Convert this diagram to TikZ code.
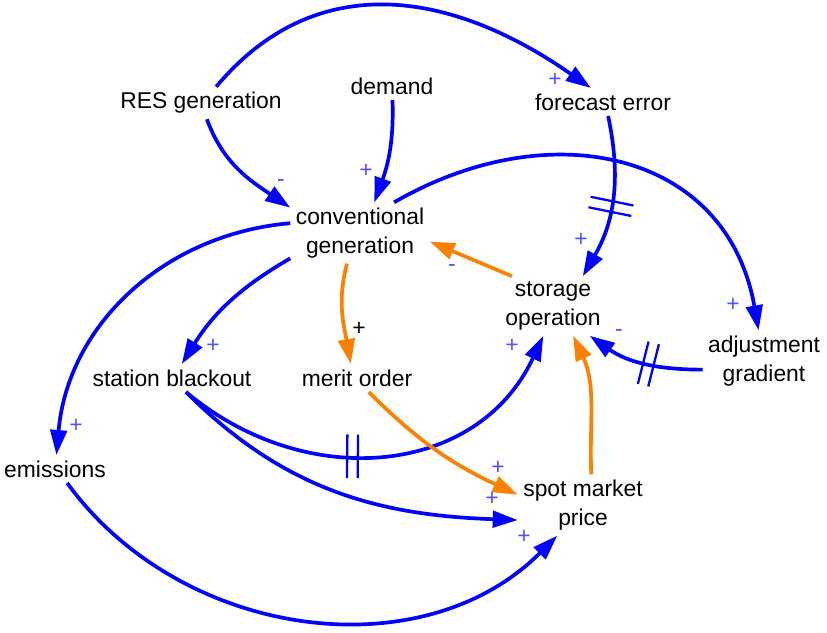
\documentclass[tikz,border=0pt]{standalone}
\usepackage{fontspec}
\setmainfont{Liberation Sans}
\usetikzlibrary{arrows.meta}
\definecolor{linkorange}{RGB}{255,128,0}
\definecolor{signblue}{RGB}{80,80,255}

\begin{document}
\begin{tikzpicture}[x=0.02cm,y=0.02cm,
    var/.style={align=center,inner sep=3pt,font=\fontsize{13}{16.4}\selectfont},
    link/.style={draw=blue,line width=2.1pt,-{Triangle[length=0.5cm,width=0.33cm]}},
    olink/.style={link,draw=linkorange,-{Triangle[length=0.5cm,width=0.33cm,fill=linkorange]}},
    sign/.style={inner sep=0pt,text=signblue,font=\fontsize{13}{15}\selectfont},
    delay/.style={sloped,inner sep=0pt,minimum width=0.14cm,minimum height=0.8cm},
    bar/.style={draw=blue,line width=1.3pt}]
  \useasboundingbox (0,0) rectangle (827,632);

  \node[var] (res) at (201,529) {RES generation};
  \node[var] (dem) at (392,546) {demand};
  \node[var] (fce) at (603,530) {forecast error};
  \node[var] (conv) at (360,399) {conventional\\generation};
  \node[var] (sto) at (553,326) {storage\\operation};
  \node[var] (adj) at (764,271) {adjustment\\gradient};
  \node[var] (blk) at (172,254) {station blackout};
  \node[var] (mer) at (357,254) {merit order};
  \node[var] (emi) at (55,163) {emissions};
  \node[var] (spot) at (583,127) {spot market\\price};

  \draw[link] (res.47) to[out=50,in=145,looseness=1.1] (fce.131);
  \draw[link] (res.-70) to[out=-70,in=146] (conv.160);
  \draw[link] (dem.-88) to[out=-88,in=70] (conv.65);
  \draw[link] (fce.-70) to[out=-78,in=60] node[delay,pos=.55] (D1) {} (sto.45);
  \draw[link] (conv.42) to[out=30,in=100,looseness=1.2] (adj.100);
  \draw[olink] (sto.144) -- (conv.-7);
  \draw[olink] (conv.-113) to[out=-105,in=100] (mer.114);
  \draw[link] (conv.-160) to[out=-150,in=58] (blk.55);
  \draw[link] (conv.172) to[out=185,in=85] (emi.84);
  \draw[link] (blk.-45) to[out=-40,in=-115,looseness=1.1] node[delay,pos=.42] (D2) {} (sto.-108);
  \draw[link] (blk.-45) to[out=-45,in=178] (spot.193);
  \draw[olink] (mer.-50) to[out=-45,in=155] (spot.171);
  \draw[olink] (spot.75) to[out=92,in=-65] (sto.-56);
  \draw[link] (adj.188) to[out=180,in=-35] node[delay,pos=.45] (D3) {} (sto.-39);
  \draw[link] (emi.-49) to[out=-54,in=-135] (spot.-130);

  \foreach \d in {D1,D2,D3}
    \draw[bar] (\d.north west) -- (\d.south west) (\d.north east) -- (\d.south east);

  \node[sign] (P1) at (555,552) {+};
  \node[sign] (P2) at (281,449) {-};
  \node[sign] (P3) at (366,461) {+};
  \node[sign] (P4) at (581,392) {+};
  \node[sign] (P5) at (733,327) {+};
  \node[sign] (P6) at (452,364) {-};
  \node[sign,text=black] (P7) at (359,303) {+};
  \node[sign] (P8) at (213,286) {+};
  \node[sign] (P9) at (76,206) {+};
  \node[sign] (P10) at (512,286) {+};
  \node[sign] (P11) at (492,133) {+};
  \node[sign] (P12) at (498,164) {+};
  \node[sign] (P13) at (619,299) {-};
  \node[sign] (P14) at (524,95) {+};
\end{tikzpicture}
\end{document}
